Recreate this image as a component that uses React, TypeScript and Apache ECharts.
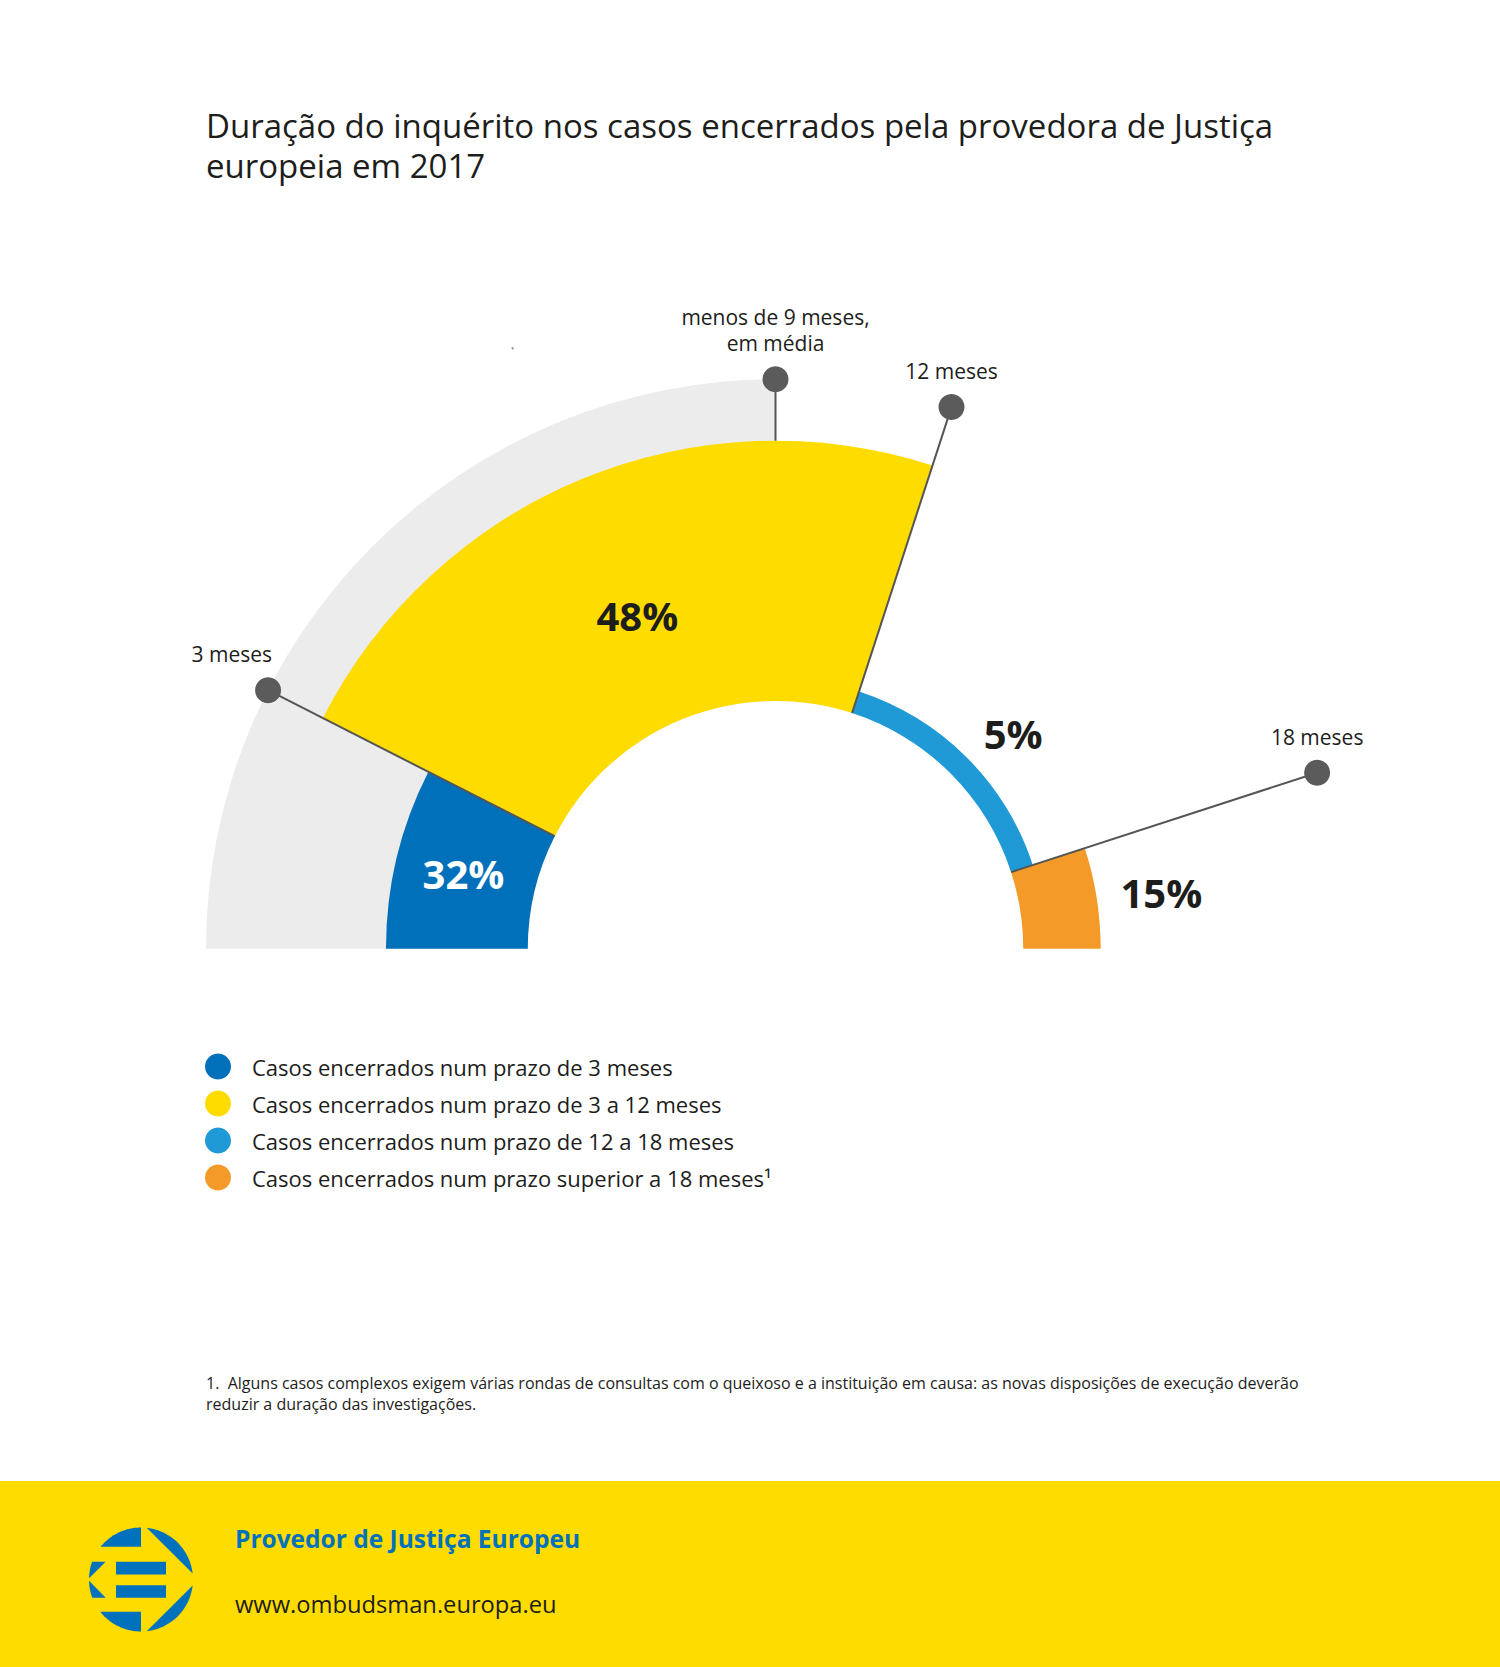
import React, { useEffect, useRef } from "react";
import * as echarts from "echarts";

// ---------- data ----------
const segmentNames = [
  "Casos encerrados num prazo de 3 meses",
  "Casos encerrados num prazo de 3 a 12 meses",
  "Casos encerrados num prazo de 12 a 18 meses",
  "Casos encerrados num prazo superior a 18 meses¹",
];
const segmentShares = [32, 48, 5, 15];
const segmentStartMonths = [0, 3, 12, 18];
const segmentEndMonths = [3, 12, 18, 20];
// radial reach of each band on the radius axis (0 = centre, 100 = edge of the grey track)
const segmentReach = [68.4, 89.2, 47.5, 57.1];
const holeReach = 43.5;
const trackMonths = [0, 10];
const markerMonths = [3, 10, 12, 18];
const markerLabels = ["3 meses", "menos de 9 meses,\nem média", "12 meses", "18 meses"];

const titleText =
  "Duração do inquérito nos casos encerrados pela provedora de Justiça\neuropeia em 2017";
const footnoteText =
  "1.  Alguns casos complexos exigem várias rondas de consultas com o queixoso e a instituição em causa: as novas disposições de execução deverão\nreduzir a duração das investigações.";
const footerTitle = "Provedor de Justiça Europeu";
const footerUrl = "www.ombudsman.europa.eu";

// ---------- styles ----------
const FONT = "'Open Sans', 'Noto Sans', 'DejaVu Sans', sans-serif";
const segmentColors = ["#0070BA", "#FFDC00", "#209AD6", "#F39A28"];
const TRACK = "#ECECEC";
const TEXT = "#1d1d1b";
const MARKER = "#5B5B5B";
const LOGO_BLUE = "#0071BC";
const FOOT_YELLOW = "#FFDC00";

function geom(api: any) {
  const c = api.coord([0, 0]);
  const rad = (v: number) => {
    const p = api.coord([v, 0]);
    return Math.hypot(p[0] - c[0], p[1] - c[1]);
  };
  const ang = (m: number) => {
    const p = api.coord([100, m]);
    let t = Math.atan2(p[1] - c[1], p[0] - c[0]);
    if (t < Math.PI / 2 - 1e-9) t += 2 * Math.PI;
    return t;
  };
  return { cx: c[0], cy: c[1], rad, ang };
}

function isDark(hex: string) {
  const n = parseInt(hex.slice(1), 16);
  const r = (n >> 16) & 255, g = (n >> 8) & 255, b = n & 255;
  return 0.299 * r + 0.587 * g + 0.114 * b < 140;
}

// ---------- logo (decorative) ----------
function buildLogo(cx: number, cy: number, R: number) {
  const U = 156; // drawing units for the logo
  const s = R / U;
  const P = (x: number, y: number) => [cx + x * s, cy + y * s];
  const arc = (a0: number, a1: number, n = 24) => {
    const pts: number[][] = [];
    for (let i = 0; i <= n; i++) {
      const a = ((a0 + ((a1 - a0) * i) / n) * Math.PI) / 180;
      pts.push(P(U * Math.cos(a), U * Math.sin(a)));
    }
    return pts;
  };
  const deg = (x: number, y: number) => (Math.atan2(y, x) * 180) / Math.PI;
  const xAt = (y: number) => Math.sqrt(U * U - y * y);
  const pieces: number[][][] = [];
  pieces.push([P(0, -98), P(-xAt(-98), -98), ...arc(360 + deg(-xAt(-98), -98), 270)]);
  pieces.push([P(0, 97), ...arc(90, deg(-xAt(97), 97))]);
  pieces.push(arc(-83.7, -6.7));
  pieces.push(arc(6.7, 83.7));
  pieces.push([P(-106, -53), P(-155.9, -4), ...arc(181.5, 360 + deg(-xAt(-53), -53), 10)]);
  pieces.push([P(-106, 55), P(-155.9, 4), ...arc(178.5, deg(-xAt(55), 55), 10)]);
  const els: any[] = pieces.map((pts) => ({
    type: "polygon",
    shape: { points: pts },
    style: { fill: LOGO_BLUE },
    silent: true,
  }));
  els.push({
    type: "rect",
    shape: { x: cx - 75 * s, y: cy - 53 * s, width: 150 * s, height: 38 * s },
    style: { fill: LOGO_BLUE },
    silent: true,
  });
  els.push({
    type: "rect",
    shape: { x: cx - 75 * s, y: cy + 17 * s, width: 150 * s, height: 38 * s },
    style: { fill: LOGO_BLUE },
    silent: true,
  });
  return els;
}

function buildOption(): any {
  const segmentSeries = segmentNames.map((name, i) => ({
    type: "custom",
    name,
    coordinateSystem: "polar",
    silent: true,
    z: 2,
    itemStyle: { color: segmentColors[i] },
    data: [[segmentStartMonths[i], segmentEndMonths[i], segmentReach[i], segmentShares[i]]],
    renderItem: (params: any, api: any) => {
      const g = geom(api);
      const a0 = g.ang(api.value(0));
      const a1 = g.ang(api.value(1));
      const r0 = g.rad(holeReach);
      const r1 = g.rad(api.value(2));
      const am = (a0 + a1) / 2;
      const half = (a1 - a0) / 2;
      const inside = r1 - r0 > 100;
      // centroid of the annular sector for inside labels, a small gap outside otherwise
      const centroid =
        ((2 / 3) * (r1 ** 3 - r0 ** 3)) / (r1 ** 2 - r0 ** 2) * (Math.sin(half) / half);
      const lr = inside ? centroid : r1 + 24;
      const lift = inside ? 0 : 10 * Math.sin(am); // raise outside labels as they climb the arc
      const color = api.visual("color");
      return {
        type: "group",
        children: [
          {
            type: "sector",
            shape: { cx: g.cx, cy: g.cy, r0, r: r1, startAngle: a0, endAngle: a1, clockwise: true },
            style: { fill: color },
          },
          {
            type: "text",
            x: g.cx + lr * Math.cos(am),
            y: g.cy + lr * Math.sin(am) + lift,
            style: {
              text: api.value(3) + "%",
              fill: inside && isDark(segmentColors[i]) ? "#ffffff" : TEXT,
              fontSize: 40,
              fontWeight: "bold",
              fontFamily: FONT,
              align: inside ? "center" : "left",
              verticalAlign: "middle",
              textAlign: inside ? "center" : "left",
              textVerticalAlign: "middle",
            },
          },
        ],
      };
    },
  }));

  const trackSeries = {
    type: "custom",
    coordinateSystem: "polar",
    silent: true,
    z: 1,
    data: [[trackMonths[0], trackMonths[1]]],
    renderItem: (params: any, api: any) => {
      const g = geom(api);
      return {
        type: "sector",
        shape: {
          cx: g.cx,
          cy: g.cy,
          r0: g.rad(holeReach),
          r: g.rad(100),
          startAngle: g.ang(api.value(0)),
          endAngle: g.ang(api.value(1)),
          clockwise: true,
        },
        style: { fill: TRACK },
      };
    },
  };

  const markerSeries = {
    type: "custom",
    coordinateSystem: "polar",
    silent: true,
    z: 3,
    data: markerMonths.map((m, i) => [m, i]),
    renderItem: (params: any, api: any) => {
      const g = geom(api);
      const m = api.value(0);
      const idx = params.dataIndex;
      const a = g.ang(m);
      let startReach = holeReach;
      segmentStartMonths.forEach((s, k) => {
        if (m > s && m < segmentEndMonths[k]) startReach = segmentReach[k];
      });
      const rs = g.rad(startReach);
      const re = g.rad(100);
      const cs = Math.cos(a), sn = Math.sin(a);
      const dx = g.cx + re * cs, dy = g.cy + re * sn;
      const leftSide = cs < -0.5;
      return {
        type: "group",
        children: [
          {
            type: "line",
            shape: { x1: g.cx + rs * cs, y1: g.cy + rs * sn, x2: dx, y2: dy },
            style: { stroke: "#555555", lineWidth: 2 },
          },
          { type: "circle", shape: { cx: dx, cy: dy, r: 13 }, style: { fill: MARKER } },
          {
            type: "text",
            x: leftSide ? dx + 4 : dx,
            y: dy - 23,
            style: {
              text: markerLabels[idx],
              fill: TEXT,
              fontSize: 21,
              lineHeight: 26,
              fontFamily: FONT,
              align: leftSide ? "right" : "center",
              verticalAlign: "bottom",
              textAlign: leftSide ? "right" : "center",
              textVerticalAlign: "bottom",
            },
          },
        ],
      };
    },
  };

  const graphics: any[] = [
    {
      type: "text",
      x: 206,
      y: 104.7,
      silent: true,
      style: {
        text: titleText,
        fill: TEXT,
        fontSize: 33,
        lineHeight: 40.6,
        fontFamily: FONT,
        verticalAlign: "top",
        textVerticalAlign: "top",
      },
    },
    { type: "circle", shape: { cx: 512.6, cy: 348.3, r: 1.2 }, style: { fill: "#9a9a9a" }, silent: true },
    {
      type: "text",
      x: 206,
      y: 1372,
      silent: true,
      style: {
        text: footnoteText,
        fill: TEXT,
        fontSize: 16,
        lineHeight: 21.3,
        fontFamily: FONT,
        verticalAlign: "top",
        textVerticalAlign: "top",
      },
    },
    {
      type: "rect",
      shape: { x: 0, y: 1481, width: 1500, height: 186 },
      style: { fill: FOOT_YELLOW },
      silent: true,
      z: -1,
    },
    {
      type: "text",
      x: 235,
      y: 1538,
      silent: true,
      style: {
        text: footerTitle,
        fill: LOGO_BLUE,
        fontSize: 24.5,
        fontWeight: "bold",
        fontFamily: FONT,
        verticalAlign: "middle",
        textVerticalAlign: "middle",
      },
    },
    {
      type: "text",
      x: 235,
      y: 1604,
      silent: true,
      style: {
        text: footerUrl,
        fill: TEXT,
        fontSize: 23.7,
        fontFamily: FONT,
        verticalAlign: "middle",
        textVerticalAlign: "middle",
      },
    },
    ...buildLogo(141, 1579.5, 52),
  ];

  return {
    animation: false,
    backgroundColor: "#ffffff",
    textStyle: { fontFamily: FONT },
    polar: { center: [775.5, 948.7], radius: [0, 569.5] },
    angleAxis: {
      type: "value",
      min: 0,
      max: 40,
      startAngle: 180,
      clockwise: true,
      show: false,
    },
    radiusAxis: { type: "value", min: 0, max: 100, show: false },
    legend: {
      data: segmentNames,
      orient: "vertical",
      left: 205,
      top: 1053.5,
      padding: 0,
      itemWidth: 26,
      itemHeight: 26,
      itemGap: 11,
      icon: "circle",
      selectedMode: false,
      formatter: (n: string) => `{t|${n}}`,
      textStyle: {
        rich: {
          t: { fontSize: 22, fontFamily: FONT, color: TEXT, padding: [0, 0, 0, 16] },
        },
      },
    },
    graphic: graphics,
    series: [trackSeries, ...segmentSeries, markerSeries],
  };
}

export default function App() {
  const ref = useRef<HTMLDivElement>(null);
  useEffect(() => {
    document.body.style.margin = "0";
    const chart = echarts.init(ref.current as HTMLDivElement, undefined, {
      renderer: "svg",
      width: 1500,
      height: 1667,
    });
    chart.setOption(buildOption());
    return () => chart.dispose();
  }, []);
  return <div ref={ref} style={{ width: 1500, height: 1667 }} />;
}
